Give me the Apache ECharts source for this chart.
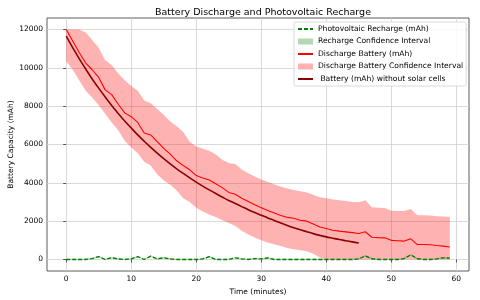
<!DOCTYPE html>
<html><head><meta charset="utf-8">
<script src="https://cdn.jsdelivr.net/npm/echarts@6/dist/echarts.min.js"></script>
<style>html,body{margin:0;padding:0;background:#fff}#c{width:480px;height:300px}</style>
</head><body><div id="c"></div>
<script>
const minutes = Array.from({length:60},(_,i)=>i);
const discharge = [12000,11400,10800,10250,9900,9500,8850,8600,8100,7650,
  7450,7150,6600,6500,6150,5800,5500,5150,4900,4680,
  4380,4250,4150,3950,3750,3500,3400,3200,3030,2860,
  2700,2560,2430,2300,2200,2150,2050,2000,1850,1700,
  1620,1530,1480,1440,1400,1360,1450,1160,1140,1130,
  1000,980,960,1080,780,780,770,730,700,650];
const dischargeUpper = [12000,12000,12000,11850,11450,11050,10400,10150,9700,9350,
  9050,8800,8300,8150,7850,7550,7200,6950,6650,6150,
  5900,5780,5680,5480,5200,5030,4980,4700,4500,4330,
  4180,4050,3920,3800,3700,3630,3560,3500,3380,3250,
  3200,3130,3090,3050,3000,2990,3090,2720,2700,2690,
  2540,2530,2530,2640,2310,2310,2300,2260,2240,2220];
const dischargeLower = [10350,9900,9350,8800,8450,8050,7600,7150,6750,6200,
  5850,5550,5100,4900,4450,4120,3900,3600,3200,3000,
  2700,2500,2350,2220,2050,1900,1750,1500,1300,1150,
  1000,880,800,700,600,540,480,430,300,100,
  0,0,0,0,0,0,0,0,0,0,
  0,0,0,0,0,0,0,0,0,0];
const noSolarMinutes = minutes.slice(0,46);
const noSolar = [11650,11050,10480,9940,9420,8940,8480,8040,7620,7230,
  6860,6500,6170,5850,5550,5260,4990,4730,4490,4260,
  4040,3830,3630,3440,3260,3080,2920,2760,2600,2450,
  2310,2170,2040,1910,1780,1660,1550,1450,1350,1260,
  1180,1110,1040,980,920,860];
const recharge = [0,0,0,0,50,150,0,90,30,0,
  30,150,0,175,30,90,30,0,0,0,
  0,30,150,0,0,0,90,30,0,50,
  30,90,0,0,0,0,0,0,0,0,
  0,0,0,0,0,30,190,40,0,0,
  0,0,50,245,40,0,0,30,90,70];
const rechargeUpper = [40,40,40,40,90,190,40,130,70,40,
  70,190,40,215,70,130,70,40,40,40,
  40,70,190,40,40,40,130,70,40,90,
  70,130,40,40,40,40,40,40,40,40,
  40,40,40,40,40,70,230,80,40,40,
  40,40,90,285,80,40,40,70,130,110];
const rechargeLower = [0,0,0,0,10,110,0,50,0,0,
  0,110,0,135,0,50,0,0,0,0,
  0,0,110,0,0,0,50,0,0,10,
  0,50,0,0,0,0,0,0,0,0,
  0,0,0,0,0,0,150,0,0,0,
  0,0,10,205,0,0,0,0,50,30];
const xTicks = [0,10,20,30,40,50,60];
const yTicks = [0,2000,4000,6000,8000,10000,12000];

const pair = (xs, ys) => xs.map((x,i)=>[x, ys[i]]);
const FONT = 'DejaVu Sans';
const FS = 7.5;
const names = {
  pv: 'Photovoltaic Recharge (mAh)',
  pvci: 'Recharge Confidence Interval',
  dis: 'Discharge Battery (mAh)',
  disci: 'Discharge Battery Confidence Interval',
  ns: ' Battery (mAh) without solar cells'
};
function band(lo, hi, fill) {
  return function (params, api) {
    if (params.dataIndex !== 0) return null;
    const pts = [];
    for (let i = 0; i < minutes.length; i++) pts.push(api.coord([minutes[i], hi[i]]));
    for (let i = minutes.length - 1; i >= 0; i--) pts.push(api.coord([minutes[i], lo[i]]));
    return {type: 'polygon', shape: {points: pts}, style: {fill: fill}};
  };
}
const hideSym = {color: 'rgba(0,0,0,0)', borderColor: 'rgba(0,0,0,0)', borderWidth: 0};
const chart = echarts.init(document.getElementById('c'), null, {renderer:'canvas'});
chart.setOption({
  animation: false,
  textStyle: {fontFamily: FONT},
  title: {text: 'Battery Discharge and Photovoltaic Recharge', left: 258, top: 3, textAlign: 'center',
    textStyle: {fontFamily: FONT, fontSize: 9.5, fontWeight: 'normal', color: '#000'}},
  grid: {left: 47, right: 11, top: 18, bottom: 29, containLabel: false, outerBoundsMode: 'none',
    show: true, borderColor: '#333', borderWidth: 0.8, backgroundColor: 'transparent'},
  legend: {
    orient: 'vertical', left: 294, top: 22, itemWidth: 15, itemHeight: 6, itemGap: 4.5,
    padding: [3, 3, 3, 3],
    backgroundColor: 'rgba(255,255,255,0.85)', borderColor: '#d0d0d0', borderWidth: 0.8, borderRadius: 2,
    textStyle: {fontFamily: FONT, fontSize: 7.6, color: '#000'},
    data: [
      {name: names.pv, itemStyle: hideSym},
      {name: names.pvci, icon: 'rect', itemStyle: {color: 'rgba(0,128,0,0.3)'}},
      {name: names.dis, itemStyle: hideSym},
      {name: names.disci, icon: 'rect', itemStyle: {color: 'rgba(255,0,0,0.3)'}},
      {name: names.ns, itemStyle: hideSym}
    ]
  },
  xAxis: {
    type: 'value', min: -2.95, max: 61.95,
    name: 'Time (minutes)', nameLocation: 'middle', nameGap: 17, nameMoveOverlap: false,
    nameTextStyle: {fontFamily: FONT, fontSize: FS, color: '#000'},
    axisLine: {show: false},
    axisTick: {show: true, length: 3, customValues: xTicks, lineStyle: {color: '#333', width: 0.8}},
    axisLabel: {customValues: xTicks, fontFamily: FONT, fontSize: FS, color: '#000', margin: 4, formatter: v => String(v)},
    splitLine: {show: true, customValues: xTicks, lineStyle: {color: '#d0d0d0', width: 0.8}}
  },
  yAxis: {
    type: 'value', min: -600, max: 12600,
    name: 'Battery Capacity (mAh)', nameLocation: 'middle', nameGap: 32, nameMoveOverlap: false,
    nameTextStyle: {fontFamily: FONT, fontSize: FS, color: '#000'},
    axisLine: {show: false},
    axisTick: {show: true, length: 3, customValues: yTicks, lineStyle: {color: '#333', width: 0.8}},
    axisLabel: {customValues: yTicks, fontFamily: FONT, fontSize: FS, color: '#000', margin: 4, formatter: v => String(v)},
    splitLine: {show: true, customValues: yTicks, lineStyle: {color: '#d0d0d0', width: 0.8}}
  },
  series: [
    {name: names.disci, type: 'custom', data: pair(minutes, dischargeUpper), encode: {x: 0, y: 1},
      renderItem: band(dischargeLower, dischargeUpper, 'rgba(255,0,0,0.3)'),
      itemStyle: {color: 'rgba(255,0,0,0.3)'}, z: 1, silent: true},
    {name: names.pvci, type: 'custom', data: pair(minutes, rechargeUpper), encode: {x: 0, y: 1},
      renderItem: band(rechargeLower, rechargeUpper, 'rgba(0,128,0,0.3)'),
      itemStyle: {color: 'rgba(0,128,0,0.3)'}, z: 1, silent: true},
    {name: names.pv, type: 'line', data: pair(minutes, recharge), symbol: 'none',
      lineStyle: {color: '#008000', width: 1.3, type: [4, 2]}, itemStyle: {color: '#008000'}, z: 3},
    {name: names.dis, type: 'line', data: pair(minutes, discharge), symbol: 'none',
      lineStyle: {color: '#ff0000', width: 1.1}, itemStyle: {color: '#ff0000'}, z: 3},
    {name: names.ns, type: 'line', data: pair(noSolarMinutes, noSolar), symbol: 'none', smooth: 0.3,
      lineStyle: {color: '#8b0000', width: 1.6}, itemStyle: {color: '#8b0000'}, z: 4}
  ]
});
</script></body></html>
